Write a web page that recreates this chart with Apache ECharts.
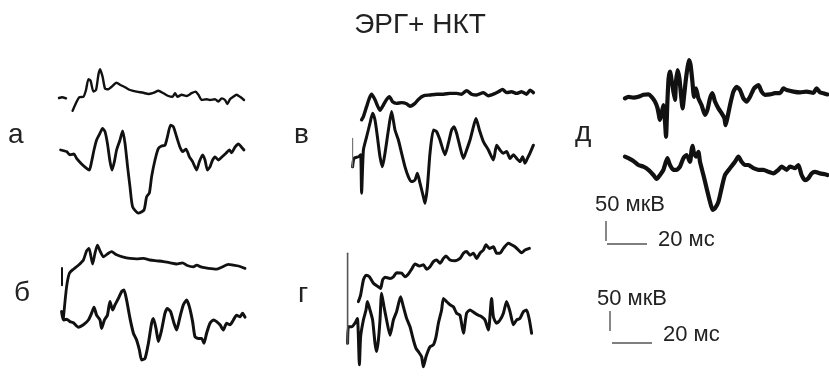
<!DOCTYPE html>
<html>
<head>
<meta charset="utf-8">
<script src="https://cdn.jsdelivr.net/npm/echarts@6/dist/echarts.min.js"></script>
<style>
  html, body { margin: 0; padding: 0; background: #fff; }
  #chart { width: 829px; height: 385px; }
</style>
</head>
<body>
<div id="chart"></div>
<script>
// ERG recordings: each trace is a list of [time, ms ; amplitude, µV] pairs.
// '-' marks a break in the recorded line.

// а — upper and lower traces
const aTop = [[0,0],[1.5,2],[3.5,-1],[5,'-'],
  [6.8,-32],[10.2,2],[12.2,3],[13.5,20],[14.7,47],[15.8,43],[17.2,16],[18.5,20],[19.7,58],[20.5,72],
  [21.8,53],[23,24],[24.7,22],[26.3,28],[28.8,38],[30.5,33],[33,27],[35.5,20],[38.8,16],[42.2,13],
  [44.7,10],[47.2,13],[49.7,18],[52.2,12],[54.7,5],[56.8,3],[58,12],[59.3,3],[61.3,8],[63.8,5],
  [66.3,12],[68.3,16],[69.7,8],[71.3,-5],[73.8,-3],[75.5,-5],[78,-3],[79.7,-9],[81.3,-1],[83,-5],
  [84.2,-15],[85.5,-3],[86.8,2],[88.8,8],[90.5,3],[92.5,-5]];
const aBottom = [[0.3,0],[3.3,-4],[5,-12],[7,-10],[8.3,-21],[10.8,-35],[13.3,-46],[14.7,-50],[15.8,-29],
  [17,0],[18.3,25],[20,42],[21.3,54],[22.5,46],[23.7,17],[25,-29],[26,-50],[27.2,-29],[28.3,0],[30,25],
  [31.3,48],[32.5,17],[33.8,-42],[35,-92],[36.3,-142],[39.2,-158],[42,-150],[43.3,-117],[44.7,-107],
  [45.8,-67],[47.5,-25],[49.2,4],[50.8,10],[52.5,12],[53.7,33],[55.3,62],[56.7,58],[58.3,33],[60,7],
  [61.3,-4],[63,2],[64.7,-17],[66.3,-29],[68.3,-50],[69.7,-29],[71.3,-12],[72.5,-25],[73.7,-50],
  [75,-42],[76.3,-25],[77.5,-17],[79.2,-25],[80.8,-18],[83,-8],[84.7,0],[85.8,-7],[87.5,7],[89.2,15],
  [90.8,7],[92,0]];

// б
const bMarker = [[0.5,5],[0.5,-38]];
const bTop = [[1.2,-121],[2.8,-42],[4.2,-8],[6.2,2],[8.7,12],[11.2,25],[12.8,48],[14,54],[15,33],[15.8,15],[17,42],
  [18.2,62],[19.5,48],[21.2,33],[23.7,42],[25.3,46],[27.8,38],[31.2,32],[34.5,29],[37.8,28],[41.2,29],
  [44.5,25],[47.8,23],[51.2,21],[54.5,18],[57.8,15],[60.8,18],[62.8,12],[66.2,8],[67.8,12],[70.3,7],
  [73.7,4],[77.8,2],[80.3,7],[83.7,14],[86.2,12],[88.7,10],[92,4]];
const bBottom = [[0.3,21],[1.2,0],[2.8,2],[4.5,-4],[6.2,-7],[8.7,-18],[11.2,-12],[13.7,0],[15.3,17],
  [16.5,32],[17.8,12],[19.5,0],[20.3,-21],[21.7,0],[23.2,12],[24.5,46],[25.8,25],[27,38],[28.7,54],
  [30.3,71],[31.5,75],[32.8,50],[34.5,4],[36.2,-33],[37.8,-50],[39.2,-75],[40.3,-100],[42,-96],
  [43.7,-58],[45.3,-8],[46.2,4],[47.5,-21],[48.7,-54],[50.3,-25],[52,17],[53.2,29],[54.8,21],[56.5,-8],
  [57.8,-25],[59.5,8],[61.2,38],[62.8,50],[64.2,33],[65.8,-4],[67,-42],[68.7,-46],[70.3,-46],[71.5,-58],
  [72.8,-33],[74.5,-8],[76.2,0],[77.8,-4],[79.5,-12],[81.2,-25],[82.8,-8],[84.5,-12],[86.2,0],[87.8,12],
  [89.5,8],[90.8,17],[92,7]];

// в
const vTop = [[0.8,-42],[1.7,-34],[3.3,-9],[4.7,12],[5.8,22],[7.5,8],[10,-18],[11.7,-5],[13.3,9],
  [14.7,16],[16.3,3],[18.3,-1],[20.8,1],[23.3,-2],[25,-8],[27.5,-1],[29.2,9],[31.7,18],[35,20],[38.3,22],
  [41.7,22],[45,24],[48.3,24],[50.8,22],[53.3,31],[55.8,22],[58.3,20],[61.7,26],[64.2,18],[66.7,22],
  [69.2,28],[71.3,34],[73.3,26],[75.8,28],[78.3,24],[80.8,28],[83.3,22],[85,32],[86.7,26]];
const vMarker = [[0.3,49],[0.3,-22]];
const vBottom = [[0.3,-22],[1,-1],[3.2,3],[4.3,8],[4.8,-88],[5.7,20],[7.3,53],[9,87],[10.3,112],
  [11.5,95],[12.7,53],[14,3],[15.2,-22],[16.5,12],[18.2,70],[19.8,116],[21.5,70],[23.2,45],[24.8,12],
  [26.5,-22],[28.2,-47],[29.8,-59],[31.5,-55],[32.7,-38],[34,-63],[35.7,-97],[36.5,-113],[37.7,-72],
  [39,12],[40.7,70],[42.3,66],[44,45],[46.5,8],[48.2,37],[49.8,70],[51,78],[52.3,62],[54,28],[55.7,-1],
  [57.3,20],[59,45],[60.7,78],[62,99],[63.7,70],[65.7,41],[68.2,20],[70.7,-5],[72.3,32],[74,20],
  [75.7,12],[77.3,16],[79,-1],[80.7,8],[82.3,-1],[84,-9],[85.3,3],[86.5,-13],[87.7,-1],[89,12],[90.7,32]];

// г
const gTop = [[0.7,-54],[1.8,-38],[3.2,0],[4.5,12],[6.2,8],[8.2,-8],[10.7,-17],[11.8,-21],[12.8,0],
  [14,7],[16.5,4],[18.2,8],[19.8,18],[22.3,17],[24,8],[25.7,15],[27.3,27],[29,40],[31.2,35],[33.2,38],
  [34.8,27],[36.5,33],[38.2,46],[39.8,50],[41.5,42],[43.2,54],[44.5,60],[46.5,50],[49,48],[51.5,54],
  [53.2,67],[54.8,71],[56.5,62],[58.2,67],[59.8,54],[61.5,67],[63.2,75],[64.5,88],[66.2,79],[68.2,83],
  [69.8,67],[71.5,67],[73.2,79],[75.7,92],[77.3,88],[79,83],[80.7,75],[82.3,68],[84,75],[86.2,79]];
const gMarker = [[0.3,187],[0.3,-38]];
const gBottom = [[0.3,-38],[0.7,3],[2.3,3],[4,12],[5.2,24],[6.2,-92],[6.8,-22],[8.2,20],
  [9.5,45],[10.2,66],[11.5,45],[12.8,20],[14,-38],[14.8,-59],[15.7,-30],[16.5,20],[17.3,87],[18.5,53],
  [19.8,20],[21.5,-18],[23.2,20],[24.8,41],[26.8,78],[28.2,53],[29.8,24],[31.5,3],[33.2,-30],[34.5,-51],
  [35.7,-59],[37.3,-72],[38.2,-97],[39.5,-72],[41.5,-47],[43.2,-42],[44.5,-22],[45.7,12],[47.3,45],
  [48.2,74],[49.8,66],[51.5,58],[53.2,53],[54.8,37],[56.5,32],[58.2,-13],[59.8,37],[61.5,45],[64,37],
  [65.7,32],[67.3,28],[69,20],[70.7,-5],[72.3,74],[73.2,28],[74.8,12],[76.5,20],[78.2,37],[79.8,66],
  [81.5,41],[83.2,8],[84.8,20],[86.5,24],[88.2,41],[89.8,45],[91.2,20],[92.3,-13]];

// д
const dTop = [[0,-1],[1.7,3],[4.2,1],[6.7,3],[9.2,8],[11.7,9],[13.3,3],[15,-9],[16.3,-26],[17.5,-55],
  [18.3,-38],[19.2,-18],[20,-59],[20.5,-97],[21.2,-9],[21.8,49],[22.5,66],[23.3,45],[24.2,16],[25,-5],
  [25.5,41],[26.3,70],[27.2,49],[28,8],[28.8,-26],[29.5,3],[30.3,41],[31.2,74],[32,95],[32.8,82],
  [33.7,41],[34.5,3],[35.5,24],[36.7,-1],[38.3,-18],[40,-42],[41.2,-30],[42.5,-1],[43.7,12],[45,-9],
  [46.7,-26],[48.3,-38],[49.7,-51],[50.3,-68],[51.3,-47],[52.5,-18],[54.2,16],[55.8,28],[57.5,20],
  [59.2,-1],[60.8,-9],[62.5,3],[64.5,24],[66.7,32],[68.3,16],[70,8],[72.5,9],[75,12],[77.5,12],
  [79.2,24],[80.8,20],[84.2,16],[87.5,14],[90.8,16],[94.2,13],[95.8,24],[97.5,14],[99.2,12],[101.2,9]];
const dBottom = [[0,1],[1.7,-3],[4.2,-10],[6.7,-20],[9.2,-24],[11.7,-32],[14.2,-45],[15.8,-55],[17.5,-45],
  [19.2,-32],[21.2,-3],[22.5,-20],[24.2,-32],[25.8,-32],[27.5,-24],[29.2,-3],[30.8,5],[32.5,-12],
  [33.3,18],[33.8,28],[34.5,9],[35.5,1],[36.7,13],[37.5,-12],[39.2,-45],[40.8,-78],[42.5,-112],
  [43.8,-132],[45,-128],[46.7,-112],[48.3,-78],[50,-45],[52.5,-28],[55,-12],[56.7,1],[58.3,-12],
  [60,-20],[61.7,-20],[64.2,-28],[66.7,-32],[69.2,-32],[71.7,-37],[74.2,-41],[76.7,-32],[78.3,-24],
  [80.8,-32],[82.5,-24],[85,-28],[86.7,-20],[88.3,-45],[90,-58],[91.7,-53],[93.3,-41],[95,-37],
  [97.5,-41],[100,-43],[101.2,-45]];

// Calibration bar values
const scaleAmp = 50;   // мкВ
const scaleDur = 20;   // мс
const panelLabels = ['а', 'б', 'в', 'г', 'д'];
const titleText = 'ЭРГ+ НКТ';

// Drawing scale shared by every trace: ms per pixel and µV per pixel
const MS_PER_PX = 0.5;
const UV_PER_PX = 2.5;
const FONT = '"Liberation Sans", Arial, sans-serif';
const INK = '#111';

// Where each trace sits: left edge of the time axis and pixel row of its zero level.
// Several traces share a row (stimulus markers are drawn thinner).
const traces = [
  { data: aTop,    left: 59,  base: 98,  width: 200, lw: 2.4 },
  { data: aBottom, left: 60,  base: 150, width: 200, lw: 2.8 },
  { data: bTop,    left: 61,  base: 270, width: 200, lw: 2.8, extra: [{ data: bMarker, lw: 2 }] },
  { data: bBottom, left: 61,  base: 320, width: 200, lw: 3 },
  { data: vTop,    left: 360, base: 103, width: 200, lw: 3.4 },
  { data: vBottom, left: 352, base: 158, width: 200, lw: 3, extra: [{ data: vMarker, lw: 1.2, color: '#777' }] },
  { data: gTop,    left: 357, base: 280, width: 200, lw: 3 },
  { data: gBottom, left: 347, base: 328, width: 200, lw: 3, extra: [{ data: gMarker, lw: 1.6, color: '#555' }] },
  { data: dTop,    left: 625, base: 98,  width: 204, lw: 4.2 },
  { data: dBottom, left: 625, base: 157, width: 204, lw: 4.2 }
];

// Calibration bars: grid box plus offsets (ms, µV) of each stroke inside it
const scaleBars = [
  { left: 606, top: 200, vAt: 0, vFrom: 47.5, hFrom: 0.5, hAt: 40 },
  { left: 610, top: 290, vAt: 0, vFrom: 47.5, hFrom: 1,   hAt: 17.5 }
];

const HALF_PX = 80;
const grid = [], xAxis = [], yAxis = [], series = [];

function lineSeries(i, data, lw, color) {
  return {
    type: 'line', xAxisIndex: i, yAxisIndex: i, data: data,
    symbol: 'none', showSymbol: false, smooth: 0.2, clip: false, silent: true,
    connectNulls: false,
    lineStyle: { color: color || INK, width: lw, cap: 'round', join: 'round' }
  };
}

traces.forEach((tr, i) => {
  grid.push({ left: tr.left, top: tr.base - HALF_PX, width: tr.width, height: 2 * HALF_PX,
              outerBoundsMode: 'none', containLabel: false, show: false });
  xAxis.push({ type: 'value', gridIndex: i, min: 0, max: tr.width * MS_PER_PX, show: false });
  yAxis.push({ type: 'value', gridIndex: i, min: -HALF_PX * UV_PER_PX, max: HALF_PX * UV_PER_PX, show: false });
  series.push(lineSeries(i, tr.data, tr.lw));
  (tr.extra || []).forEach((ex) => series.push(lineSeries(i, ex.data, ex.lw, ex.color)));
});

const SB = 60;
scaleBars.forEach((sb) => {
  const gi = grid.length;
  grid.push({ left: sb.left, top: sb.top, width: SB, height: SB, outerBoundsMode: 'none', containLabel: false });
  xAxis.push({ type: 'value', gridIndex: gi, min: 0, max: SB * MS_PER_PX, show: false });
  yAxis.push({ type: 'value', gridIndex: gi, min: 0, max: SB * UV_PER_PX, show: false });
  const style = { color: '#555', width: 1.4 };
  series.push({
    type: 'line', xAxisIndex: gi, yAxisIndex: gi, symbol: 'none', clip: false, silent: true,
    data: [[sb.vAt, sb.vFrom], [sb.vAt, sb.vFrom + scaleAmp]], lineStyle: style
  });
  series.push({
    type: 'line', xAxisIndex: gi, yAxisIndex: gi, symbol: 'none', clip: false, silent: true,
    data: [[sb.hFrom, sb.hAt], [sb.hFrom + scaleDur, sb.hAt]], lineStyle: style
  });
});

function txt(text, x, y, size, align) {
  return {
    type: 'text', x: x, y: y, silent: true,
    style: { text: text, font: size + 'px ' + FONT, fill: '#222',
             textAlign: align || 'left', textVerticalAlign: 'middle' }
  };
}

const labelPos = [[8, 135], [14, 293], [294, 135], [298, 294], [575, 133]];
const graphic = [txt(titleText, 420, 25, 28, 'center')]
  .concat(panelLabels.map((l, i) => txt(l, labelPos[i][0], labelPos[i][1], 28)))
  .concat([
    txt(scaleAmp + ' мкВ', 595, 205, 22),
    txt(scaleDur + ' мс', 658, 240, 22),
    txt(scaleAmp + ' мкВ', 597, 299, 22),
    txt(scaleDur + ' мс', 663, 335, 22)
  ]);

const chart = echarts.init(document.getElementById('chart'), null, { renderer: 'canvas' });
chart.setOption({
  backgroundColor: '#fff',
  animation: false,
  grid: grid,
  xAxis: xAxis,
  yAxis: yAxis,
  series: series,
  graphic: graphic
});
</script>
</body>
</html>
